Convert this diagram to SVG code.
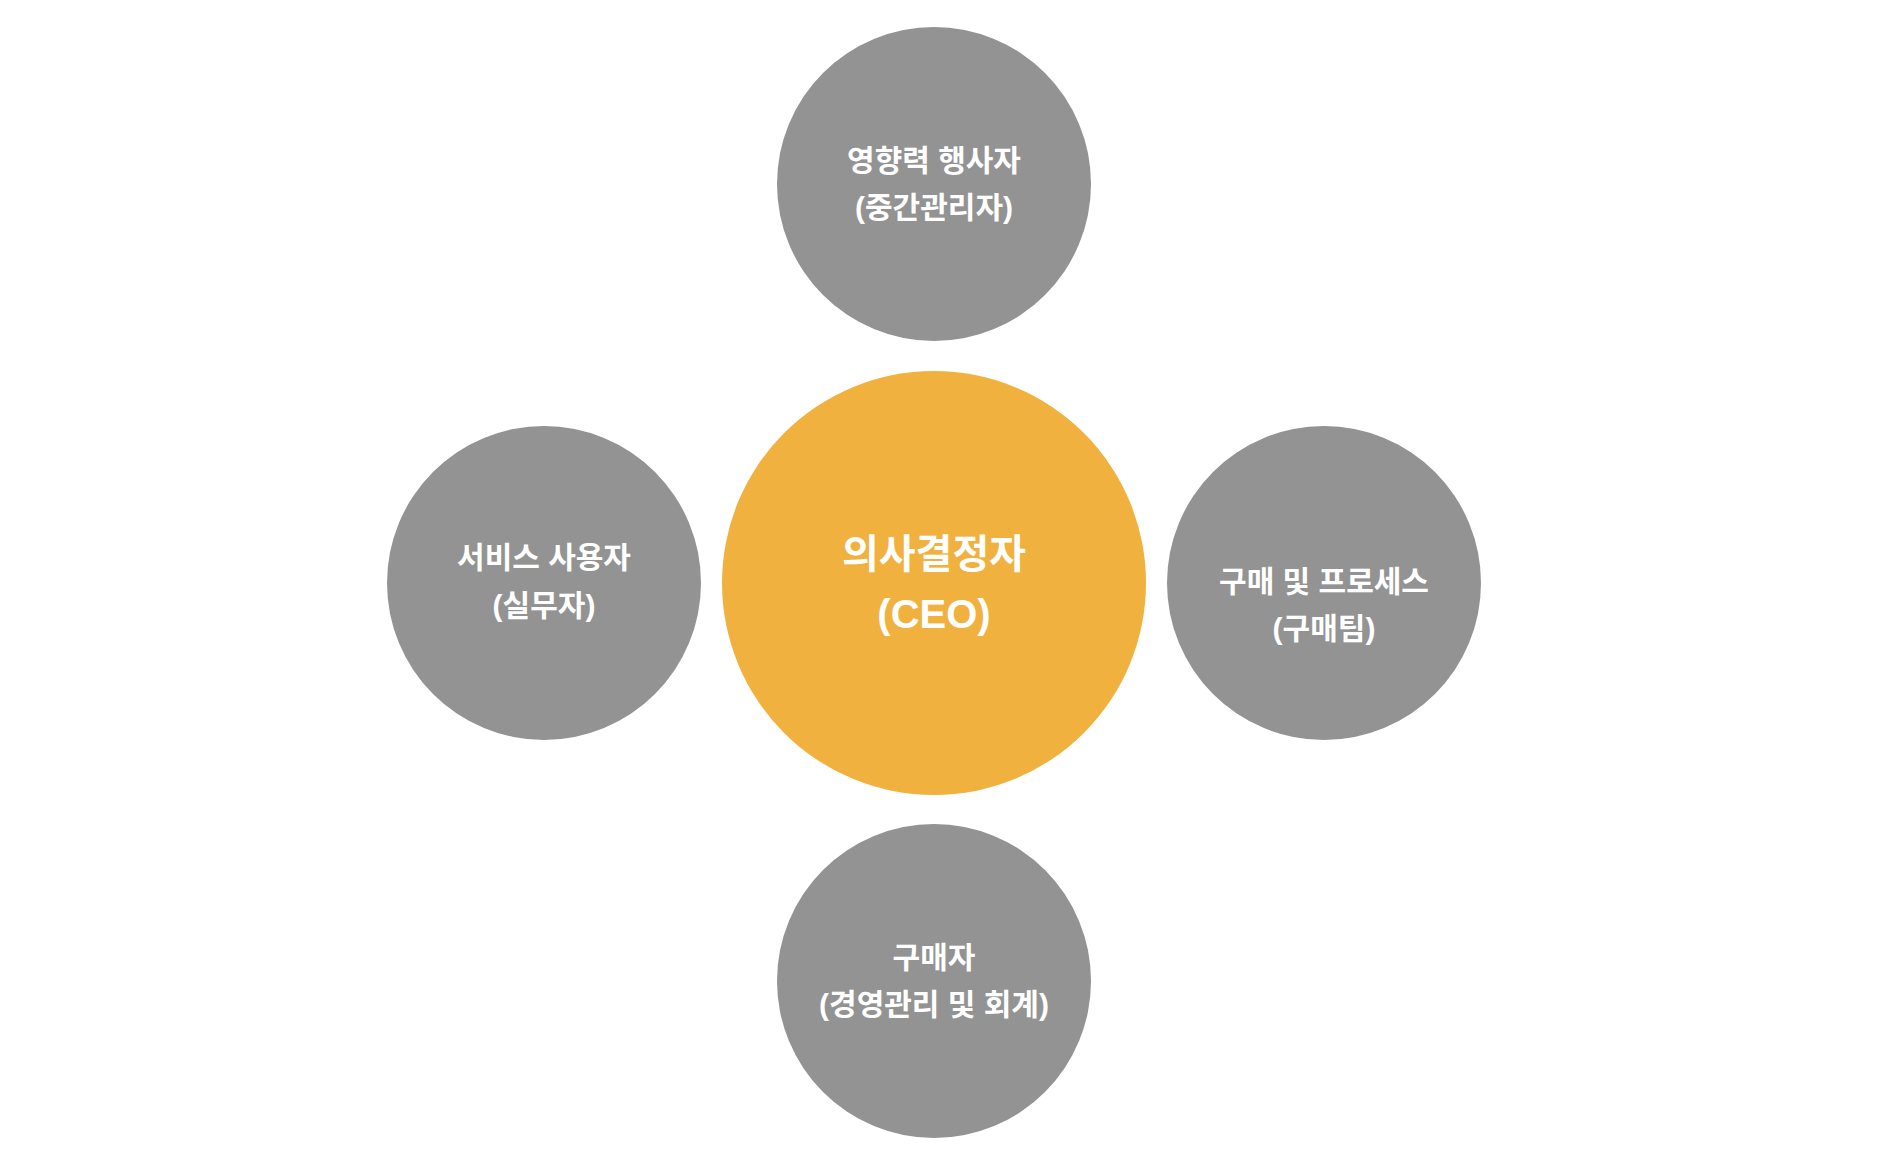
<svg xmlns="http://www.w3.org/2000/svg" width="1878" height="1164" viewBox="0 0 1878 1164">
<style>
.g{fill:#939393}
.t{fill:#fff;font-family:"Liberation Sans","Noto Sans CJK KR",sans-serif;font-weight:bold;text-anchor:middle;font-size:30px}
.c{font-size:40px}
</style>
<rect width="1878" height="1164" fill="#fff"/>
<g id="connectors"/>
<g id="top"><circle class="g" cx="934" cy="184" r="157"/><text class="t" x="934" y="171">영향력 행사자</text><text class="t" x="934" y="218">(중간관리자)</text></g>
<g id="center"><circle fill="#F1B13E" cx="934" cy="583" r="212"/><text class="t c" x="934" y="568">의사결정자</text><text class="t c" x="934" y="628">(CEO)</text></g>
<g id="left"><circle class="g" cx="544" cy="583" r="157"/><text class="t" x="544" y="568">서비스 사용자</text><text class="t" x="544" y="616">(실무자)</text></g>
<g id="right"><circle class="g" cx="1324" cy="583" r="157"/><text class="t" x="1324" y="592">구매 및 프로세스</text><text class="t" x="1324" y="639">(구매팀)</text></g>
<g id="bottom"><circle class="g" cx="934" cy="981" r="157"/><text class="t" x="934" y="968">구매자</text><text class="t" x="934" y="1015">(경영관리 및 회계)</text></g>
</svg>
